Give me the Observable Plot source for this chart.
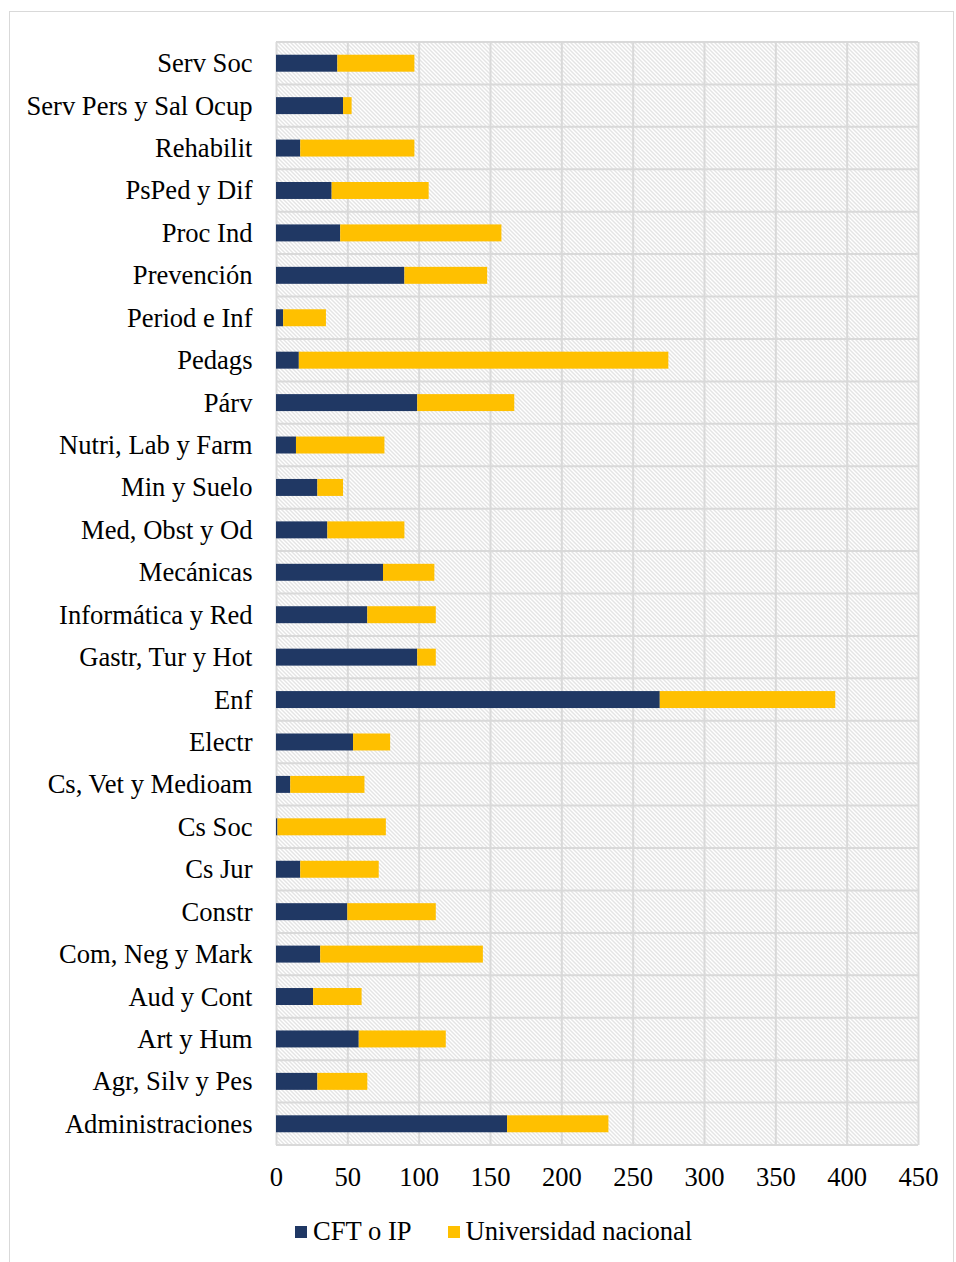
<!DOCTYPE html>
<html>
<head>
<meta charset="utf-8">
<script src="https://cdn.jsdelivr.net/npm/d3@7"></script>
<script src="https://cdn.jsdelivr.net/npm/@observablehq/plot@0.6"></script>
<style>
  html, body { margin: 0; padding: 0; background: #fff; overflow: hidden; }
  #wrap { position: relative; width: 956px; height: 1262px; overflow: hidden; font-family: "Liberation Serif", "Times New Roman", serif; }
  #frame { position: absolute; left: 9px; top: 11px; width: 945px; height: 1300px; border: 1px solid #d9d9d9; box-sizing: border-box; }
  #chart { position: absolute; left: 0; top: 0; }
  #legend { position: absolute; left: 295px; top: 1216px; display: flex; align-items: center; font-size: 26.6px; color: #000; white-space: nowrap; }
  .sw { display: inline-block; width: 12px; height: 12px; margin-right: 6px; }
  .item { display: flex; align-items: center; margin-right: 36px; }
</style>
</head>
<body>
<div id="wrap">
  <div id="frame"></div>
  <div id="chart"></div>
  <div id="legend"></div>
</div>
<script>
const categories = [
  "Serv Soc", "Serv Pers y Sal Ocup", "Rehabilit", "PsPed y Dif", "Proc Ind",
  "Prevención", "Period e Inf", "Pedags", "Párv", "Nutri, Lab y Farm",
  "Min y Suelo", "Med, Obst y Od", "Mecánicas", "Informática y Red",
  "Gastr, Tur y Hot", "Enf", "Electr", "Cs, Vet y Medioam", "Cs Soc", "Cs Jur",
  "Constr", "Com, Neg y Mark", "Aud y Cont", "Art y Hum", "Agr, Silv y Pes",
  "Administraciones"
];
const seriesNames = ["CFT o IP", "Universidad nacional"];
const seriesColors = ["#203864", "#ffc000"];
const cftValues = [43, 47, 17, 39, 45, 90, 5, 16, 99, 14, 29, 36, 75, 64, 99, 269, 54, 10, 1, 17, 50, 31, 26, 58, 29, 162];
const uniValues = [54, 6, 80, 68, 113, 58, 30, 259, 68, 62, 18, 54, 36, 48, 13, 123, 26, 52, 76, 55, 62, 114, 34, 61, 35, 71];
const xTicks = [0, 50, 100, 150, 200, 250, 300, 350, 400, 450];

const rows = [];
categories.forEach((c, i) => {
  rows.push({cat: c, series: seriesNames[0], value: cftValues[i]});
  rows.push({cat: c, series: seriesNames[1], value: uniValues[i]});
});

// horizontal lines at the band boundaries, drawn through the y band scale
function bandLines(index, scales, values, dimensions) {
  const y = scales.y;
  const bw = y.bandwidth ? y.bandwidth() : 0;
  const step = y.step ? y.step() : bw;
  const half = (step - bw) / 2;
  const ys = categories.map(c => y(c) - half);
  ys.push(y(categories[categories.length - 1]) + bw + half);
  const x0 = scales.x(0), x1 = scales.x(450);
  const g = d3.create("svg:g");
  g.selectAll("line").data(ys).join("line")
    .attr("x1", x0).attr("x2", x1)
    .attr("y1", d => d).attr("y2", d => d)
    .attr("stroke", "#d9d9d9").attr("stroke-width", 2);
  return g.node();
}

const chart = Plot.plot({
  width: 956,
  height: 1195,
  marginLeft: 276,
  marginRight: 38,
  marginTop: 42,
  marginBottom: 50,
  style: { fontFamily: "'Liberation Serif', 'Times New Roman', serif", fontSize: "26.6px", color: "#000", background: "transparent" },
  x: { domain: [0, 450], label: null },
  y: { domain: categories, paddingInner: 0.6, paddingOuter: 0.3, round: false, label: null },
  color: { domain: seriesNames, range: seriesColors },
  marks: [
    Plot.frame({ fill: "url(#hatch)", stroke: "none" }),
    Plot.gridX({ ticks: xTicks, stroke: "#d9d9d9", strokeOpacity: 1, strokeWidth: 2 }),
    bandLines,
    Plot.barX(rows, { y: "cat", x: "value", fill: "series" }),
    Plot.axisX({ ticks: xTicks, tickSize: 0, tickPadding: 22, fontSize: 26.6, label: null }),
    Plot.axisY({ tickSize: 0, tickPadding: 24, fontSize: 26.6, label: null })
  ]
});

// hatch pattern definition
const svgNS = "http://www.w3.org/2000/svg";
const defs = document.createElementNS(svgNS, "defs");
defs.innerHTML = `<pattern id="hatch" patternUnits="userSpaceOnUse" width="4" height="4">
  <rect width="4" height="4" fill="#ffffff"/>
  <path d="M-1,-1 L5,5 M3,-1 L5,1 M-1,3 L1,5" stroke="#c8c8c8" stroke-width="1"/>
</pattern>`;
chart.insertBefore(defs, chart.firstChild);
document.getElementById("chart").appendChild(chart);

const legend = document.getElementById("legend");
seriesNames.forEach((n, i) => {
  const it = document.createElement("div");
  it.className = "item";
  const sw = document.createElement("span");
  sw.className = "sw";
  sw.style.background = seriesColors[i];
  const t = document.createElement("span");
  t.textContent = n;
  it.appendChild(sw); it.appendChild(t);
  legend.appendChild(it);
});
</script>
</body>
</html>
